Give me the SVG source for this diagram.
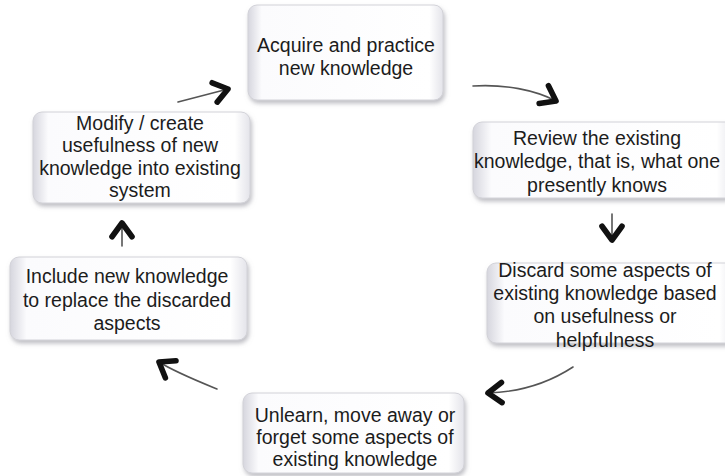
<svg xmlns="http://www.w3.org/2000/svg" width="725" height="476" viewBox="0 0 725 476">
  <defs>
    <linearGradient id="boxH" x1="0" y1="0" x2="1" y2="0">
      <stop offset="0" stop-color="#d6d6de"/>
      <stop offset="0.07" stop-color="#fbfbfd"/>
      <stop offset="0.93" stop-color="#ffffff"/>
      <stop offset="1" stop-color="#e4e4ea"/>
    </linearGradient>
    <filter id="shadow" x="-10%" y="-10%" width="125%" height="130%">
      <feDropShadow dx="1.5" dy="3" stdDeviation="2" flood-color="#8a8a95" flood-opacity="0.55"/>
    </filter>
    <marker id="chev" markerUnits="userSpaceOnUse" markerWidth="30" markerHeight="30" viewBox="-16 -12 20 24" refX="0" refY="0" orient="auto">
      <path d="M -11 -8 L 0 0 L -11 8" fill="none" stroke="#111" stroke-width="4.5" stroke-linecap="round" stroke-linejoin="round"/>
    </marker>
    <style>
      .box { fill: url(#boxH); stroke: #d2d2d8; stroke-width: 1; filter: url(#shadow); }
      .lbl { font-family: "Liberation Sans", Arial, sans-serif; font-size: 19.5px; fill: #1c1c1c; text-anchor: middle; }
      .conn { fill: none; stroke: #555; stroke-width: 1.6; stroke-linecap: round; marker-end: url(#chev); }
    </style>
  </defs>

  <g id="connectors">
    <path class="conn" d="M 178 102 L 228 89"/>
    <path class="conn" d="M 473 86 C 505 84, 535 90, 556 101"/>
    <path class="conn" d="M 612 214 L 612 240"/>
    <path class="conn" d="M 573 367 C 550 382, 520 392, 488 393"/>
    <path class="conn" d="M 217 389 C 195 380, 175 372, 159 362"/>
    <path class="conn" d="M 122 246 L 122 223"/>
  </g>

  <g id="node-acquire">
    <rect class="box" x="248" y="5" width="195" height="95" rx="9"/>
    <text class="lbl" x="346" y="52">Acquire and practice</text>
    <text class="lbl" x="346" y="75">new knowledge</text>
  </g>

  <g id="node-review">
    <rect class="box" x="473" y="122" width="262" height="76" rx="9"/>
    <text class="lbl" x="597" y="145">Review the existing</text>
    <text class="lbl" x="597" y="168">knowledge, that is, what one</text>
    <text class="lbl" x="597" y="192">presently knows</text>
  </g>

  <g id="node-discard">
    <rect class="box" x="487" y="263" width="250" height="80" rx="9"/>
    <text class="lbl" x="605" y="277">Discard some aspects of</text>
    <text class="lbl" x="605" y="300">existing knowledge based</text>
    <text class="lbl" x="605" y="323">on usefulness or</text>
    <text class="lbl" x="605" y="347">helpfulness</text>
  </g>

  <g id="node-unlearn">
    <rect class="box" x="243" y="393" width="221" height="80" rx="9"/>
    <text class="lbl" x="355" y="422">Unlearn, move away or</text>
    <text class="lbl" x="355" y="444">forget some aspects of</text>
    <text class="lbl" x="355" y="466">existing knowledge</text>
  </g>

  <g id="node-include">
    <rect class="box" x="10" y="257" width="237" height="83" rx="9"/>
    <text class="lbl" x="127" y="283">Include new knowledge</text>
    <text class="lbl" x="127" y="307">to replace the discarded</text>
    <text class="lbl" x="127" y="330">aspects</text>
  </g>

  <g id="node-modify">
    <rect class="box" x="33" y="112" width="217" height="91" rx="9"/>
    <text class="lbl" x="140" y="130">Modify / create</text>
    <text class="lbl" x="140" y="152">usefulness of new</text>
    <text class="lbl" x="140" y="175">knowledge into existing</text>
    <text class="lbl" x="140" y="197">system</text>
  </g>
</svg>
